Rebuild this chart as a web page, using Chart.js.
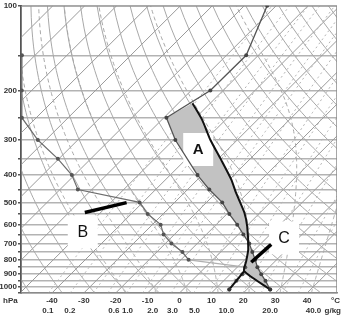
<!DOCTYPE html>
<html>
<head>
<meta charset="utf-8">
<script src="https://cdn.jsdelivr.net/npm/chart.js@4.4.0/dist/chart.umd.min.js"></script>
<style>
  html, body { margin: 0; padding: 0; background: #fff; }
</style>
</head>
<body>
<canvas id="skewt" width="341" height="319"></canvas>
<script>
// sounding (pressure hPa, temperature degC)
const envP = [100, 150, 200, 250, 300, 400, 450, 500, 550, 600, 650, 700, 750, 800, 850, 900, 950, 1020];
const envT = [-62.8, -53.8, -54.0, -59.2, -49.4, -31.4, -23.2, -15.1, -9.2, -3.4, 1.6, 6.3, 9.9, 13.3, 16.3, 19.7, 23.1, 27.3];

const dewP = [150, 200, 250, 300, 350, 400, 450, 500, 550, 600, 650, 700, 750, 800, 850, 900, 950, 1020];
const dewT = [-124.1, -113.1, -104.5, -92.5, -80.3, -70.8, -64.4, -41.0, -34.8, -27.4, -23.4, -18.1, -12.0, -7.6, 12.5, 13.8, 14.0, 14.5];

// lifted parcel: surface -> LCL along the dry adiabat, then moist ascent up to the EL
const parcelP = [1020, 878, 809, 734, 609, 543, 463, 415, 353, 300, 255, 222];
const parcelT = [27.3, 13.4, 10.9, 7.8, 0.3, -5.0, -13.7, -19.4, -28.8, -38.4, -47.2, -55.6];

// surface dewpoint up to the LCL (mixing ratio line)
const dewPathP = [1020, 878];
const dewPathT = [14.5, 13.4];

// axis ticks
const pressureTicks = [100, 150, 200, 250, 300, 350, 400, 450, 500, 550, 600, 650, 700, 750, 800, 850, 900, 950, 1000, 1050];
const tempTicks = [-40, -30, -20, -10, 0, 10, 20, 30, 40];
const mixLabels = ['0.1', '0.2', '0.6', '1.0', '2.0', '3.0', '5.0', '10.0', '20.0', '40.0'];
const mixLabelAt = [-41.3, -34.4, -20.6, -16.3, -8.4, -2.2, 4.7, 14.7, 28.4, 42.0];

// background lines of the diagram
const isotherms = [-140, -130, -120, -110, -100, -90, -80, -70, -60, -50, -40, -30, -20, -10, 0, 10, 20, 30, 40];
const dryAdiabats = [-50, -40, -30, -20, -10, 0, 10, 20, 30, 40, 50, 60, 70, 80, 90, 100, 110, 120, 130, 140, 150, 160, 170, 180];
const moistAdiabats = [-20, -10, 0, 10, 20, 30, 40];
const mixRatios = [0.1, 0.2, 0.4, 0.6, 1, 1.5, 2, 3, 5, 7, 10, 14, 20, 30, 40];

// annotations (T degC, p hPa)
const noteText = ['A', 'B', 'C'];
const noteT = [-39.4, -49.7, 15.3];
const noteP = [323, 634, 666];
const arrowBT = [-55.0, -45.0];
const arrowBP = [543, 501];
const arrowCT = [13.45, 12.8];
const arrowCP = [705, 816];

const SKEW = 88.4;   // shift of the isotherms per decade of pressure
const P_BOT = 1050;

function skewX(t, p) {
  return t + SKEW * Math.log10(P_BOT / p);
}

function toPoints(ps, ts) {
  return ps.map((p, i) => ({ x: skewX(ts[i], p), y: p }));
}

function moistLapse(t, p) {
  const T = t + 273.15;
  const es = 6.112 * Math.exp(17.67 * t / (t + 243.5));
  const rs = 0.622 * es / (p - es);
  const num = 287 * T + 2.5e6 * rs;
  const den = 1005 + 2.5e6 * 2.5e6 * rs * 0.622 / (287 * T * T);
  return num / den / p;
}

function moistPath(t0) {
  const pts = [];
  let t = t0;
  for (let p = 1000; p < P_BOT; p += 5) {
    const k = moistLapse(t + 2.5 * moistLapse(t, p), p + 2.5);
    t += 5 * k;
  }
  for (let p = P_BOT; p > 100; p -= 5) {
    pts.push([t, p]);
    const k = moistLapse(t - 2.5 * moistLapse(t, p), p - 2.5);
    t -= 5 * k;
  }
  pts.push([t, 100]);
  return pts;
}

function levels() {
  const ps = [];
  for (let p = P_BOT; p >= 100; p -= 10) ps.push(p);
  return ps;
}

const skewGrid = {
  id: 'skewGrid',
  beforeDatasetsDraw(chart) {
    const { ctx, chartArea: a, scales: { x, y } } = chart;
    const trace = (pts) => {
      ctx.beginPath();
      pts.forEach(([t, p], i) => {
        const px = x.getPixelForValue(skewX(t, p));
        const py = y.getPixelForValue(p);
        if (i) ctx.lineTo(px, py); else ctx.moveTo(px, py);
      });
      ctx.stroke();
    };
    ctx.save();
    ctx.beginPath();
    ctx.rect(a.left, a.top, a.right - a.left, a.bottom - a.top);
    ctx.clip();
    const ps = levels();

    ctx.lineWidth = 1;
    ctx.strokeStyle = '#9a9a9a';
    isotherms.forEach(t => trace([[t, P_BOT], [t, 100]]));

    ctx.strokeStyle = '#a8a8a8';
    dryAdiabats.forEach(th => {
      trace(ps.map(p => [(th + 273.15) * Math.pow(p / 1000, 0.2857) - 273.15, p]));
    });

    ctx.setLineDash([4, 3]);
    ctx.strokeStyle = '#a8a8a8';
    moistAdiabats.forEach(t0 => trace(moistPath(t0)));

    ctx.setLineDash([2, 3]);
    ctx.strokeStyle = '#b4b4b4';
    mixRatios.forEach(w => {
      trace(ps.map(p => {
        const e = (w / 1000) * p / (0.622 + w / 1000);
        const g = Math.log(e / 6.112);
        return [243.5 * g / (17.67 - g), p];
      }));
    });
    ctx.setLineDash([]);

    ctx.strokeStyle = '#8a8a8a';
    ctx.lineWidth = 1.5;
    ctx.strokeRect(a.left, a.top, a.right - a.left, a.bottom - a.top);
    ctx.restore();
  }
};

const FILL_INDEX = 6;

const noteBoxes = {
  id: 'noteBoxes',
  afterDatasetDraw(chart, args) {
    if (args.index !== FILL_INDEX) return;
    const { ctx, scales: { x, y } } = chart;
    ctx.save();
    noteText.forEach((txt, i) => {
      const cx = x.getPixelForValue(skewX(noteT[i], noteP[i]));
      const cy = y.getPixelForValue(noteP[i]);
      ctx.fillStyle = '#fff';
      ctx.fillRect(cx - 15, cy - 16, 30, 33);
      ctx.fillStyle = '#111';
      ctx.font = (i === 0 ? 'bold 15px' : '16px') + ' "Liberation Sans", Arial, sans-serif';
      ctx.textAlign = 'center';
      ctx.textBaseline = 'middle';
      ctx.fillText(txt, cx, cy + 1);
    });
    ctx.restore();
  }
};

const unitLabels = {
  id: 'unitLabels',
  afterDraw(chart) {
    const { ctx, chartArea: a } = chart;
    ctx.save();
    ctx.font = 'bold 8px "Liberation Sans", Arial, sans-serif';
    ctx.fillStyle = '#333';
    ctx.textBaseline = 'middle';
    ctx.textAlign = 'left';
    ctx.fillText('hPa', 3, a.bottom + 8);
    ctx.textAlign = 'right';
    ctx.fillText('\u00b0C', 340, a.bottom + 8);
    ctx.fillText('g/kg', 341, a.bottom + 18);
    ctx.restore();
  }
};

const tickFont = { family: '"Liberation Sans", Arial, sans-serif', size: 8, weight: 'bold' };

new Chart(document.getElementById('skewt'), {
  type: 'line',
  data: {
    datasets: [
      {
        data: toPoints(arrowBP, arrowBT),
        borderColor: '#000', borderWidth: 3.5, pointRadius: 0
      },
      {
        data: toPoints(arrowCP, arrowCT),
        borderColor: '#000', borderWidth: 3.5, pointRadius: 0
      },
      {
        data: toPoints(parcelP, parcelT),
        borderColor: '#111', borderWidth: 2,
        pointRadius: parcelP.map((p, i) => (i === 0 ? 2 : 0)),
        pointBackgroundColor: '#333', pointBorderWidth: 0, tension: 0.2
      },
      {
        data: toPoints(dewPathP, dewPathT),
        borderColor: '#111', borderWidth: 2,
        pointRadius: [2, 0], pointBackgroundColor: '#333', pointBorderWidth: 0
      },
      {
        data: toPoints(envP, envT),
        borderColor: '#555', borderWidth: 1.3,
        pointRadius: 2, pointBackgroundColor: '#444', pointBorderWidth: 0
      },
      {
        data: toPoints(dewP, dewT),
        borderColor: '#6e6e6e', borderWidth: 1.2,
        pointRadius: 2, pointBackgroundColor: '#555', pointBorderWidth: 0,
        segment: { borderColor: c => (dewP[c.p0DataIndex] === 800 ? '#b0b0b0' : undefined) }
      },
      {
        // area between the parcel (upwards) and the environment (downwards)
        data: toPoints(parcelP, parcelT).concat(
          toPoints(envP, envT).filter(pt => pt.y >= 250)
        ),
        borderWidth: 0, pointRadius: 0,
        backgroundColor: '#c2c2c2', fill: 'shape'
      }
    ]
  },
  options: {
    responsive: false,
    animation: false,
    devicePixelRatio: 1,
    layout: { padding: { top: 5, right: 3, left: 0, bottom: 0 } },
    plugins: { legend: { display: false }, tooltip: { enabled: false } },
    scales: {
      x: {
        type: 'linear', position: 'bottom',
        min: -49.69, max: 49.37,
        afterBuildTicks: s => { s.ticks = tempTicks.map(v => ({ value: v })); },
        afterFit: s => { s.height = 12; },
        ticks: { font: tickFont, color: '#333', padding: 3, maxRotation: 0, autoSkip: false, callback: v => String(v) },
        grid: { display: false, drawTicks: false },
        border: { display: true, color: '#8a8a8a', width: 1.5 }
      },
      xMix: {
        type: 'linear', position: 'bottom', axis: 'x',
        min: -49.69, max: 49.37,
        afterBuildTicks: s => { s.ticks = mixLabelAt.map(v => ({ value: v })); },
        afterFit: s => { s.height = 14; },
        ticks: { font: tickFont, color: '#333', padding: 1, maxRotation: 0, autoSkip: false,
          callback: (v, i) => mixLabels[i] },
        grid: { display: false, drawTicks: false },
        border: { display: false }
      },
      y: {
        type: 'logarithmic', reverse: true,
        min: 100, max: 1050,
        afterBuildTicks: s => { s.ticks = pressureTicks.map(v => ({ value: v })); },
        afterFit: s => { s.width = 21; },
        ticks: { font: tickFont, color: '#333', padding: 1, autoSkip: false,
          callback: v => (v % 100 === 0 ? String(v) : '') },
        grid: { color: '#b3b3b3', lineWidth: 1.5, tickLength: 3, tickColor: '#555' },
        border: { display: true, color: '#555', width: 2 }
      }
    }
  },
  plugins: [skewGrid, noteBoxes, unitLabels]
});
</script>
</body>
</html>
